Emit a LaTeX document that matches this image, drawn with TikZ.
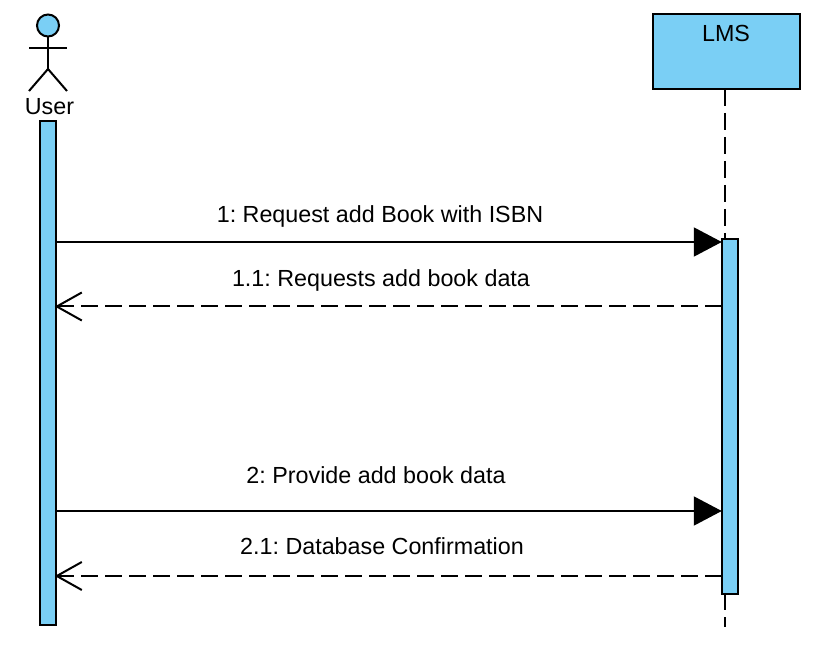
\documentclass[tikz,border=0pt]{standalone}
\usepackage{fontspec}
\setmainfont{Liberation Sans}
\usetikzlibrary{arrows.meta}
\definecolor{barblue}{HTML}{7ACFF5}
\tikzset{
  base/.style={draw=black,line width=2pt},
  bar/.style={base,fill=barblue,minimum width=16.5pt,inner sep=0pt,outer sep=0pt},
  lmsbox/.style={base,fill=barblue,minimum width=147pt,minimum height=75pt,inner sep=0pt,outer sep=0pt},
  lifeline/.style={line width=2pt,dash pattern=on 17pt off 7pt},
  sync/.style={line width=2pt,-{Triangle[length=28pt,width=29pt]}},
  reply/.style={line width=2pt,dash pattern=on 17pt off 7pt,-{Straight Barb[length=25pt,width=28pt,line width=2pt]}},
  lbl/.style={font=\fontsize{23.3}{27}\selectfont,inner sep=0pt,anchor=base},
}
\begin{document}
\frenchspacing
\begin{tikzpicture}[x=1pt,y=-1pt]
\useasboundingbox (0,0) rectangle (820,655);
% actor
\node[base,circle,fill=barblue,minimum size=22pt,inner sep=0pt,outer sep=0pt] (head) at (48,25.5) {};
\coordinate (hip) at (48,69);
\coordinate (armL) at (29,48);
\coordinate (armR) at (67,48);
\coordinate (footL) at (29,91);
\coordinate (footR) at (67,91);
\draw[line width=2pt] (head.south) -- (hip);
\draw[line width=2pt] (armL) -- (armR);
\draw[line width=2pt] (footL) -- (hip) -- (footR);
\node[lbl] (user) at (49.5,114.5) {User};
% LMS
\node[lmsbox] (lms) at (726.5,51.5) {};
\node[lbl] (lmsname) at (726,42) {LMS};
\coordinate (lifeend) at (725,627);
\draw[lifeline] (lms.south -| lifeend) -- (lifeend);
% activation bars
\node[bar,minimum height=503.5pt] (barL) at (48,373) {};
\node[bar,minimum height=355pt] (barR) at (730,416.5) {};
% messages
\coordinate (a1) at (barL.east |- 0,242);
\coordinate (b1) at (barR.west |- 0,242);
\coordinate (a2) at ([xshift=-1.5pt]barL.east |- 0,306.5);
\coordinate (b2) at (barR.west |- 0,306.5);
\coordinate (a3) at (barL.east |- 0,511);
\coordinate (b3) at (barR.west |- 0,511);
\coordinate (a4) at ([xshift=-1.5pt]barL.east |- 0,576);
\coordinate (b4) at (barR.west |- 0,576);
\draw[sync] (a1) -- (b1);
\draw[reply] (b2) -- (a2);
\draw[sync] (a3) -- (b3);
\draw[reply] (b4) -- (a4);
\node[lbl] (m1) at (380,223) {1: Request add Book with ISBN};
\node[lbl] (m2) at (381,287) {1.1: Requests add book data};
\node[lbl] (m3) at (376,483) {2: Provide add book data};
\node[lbl] (m4) at (382,554) {2.1: Database Confirmation};
\end{tikzpicture}
\end{document}
